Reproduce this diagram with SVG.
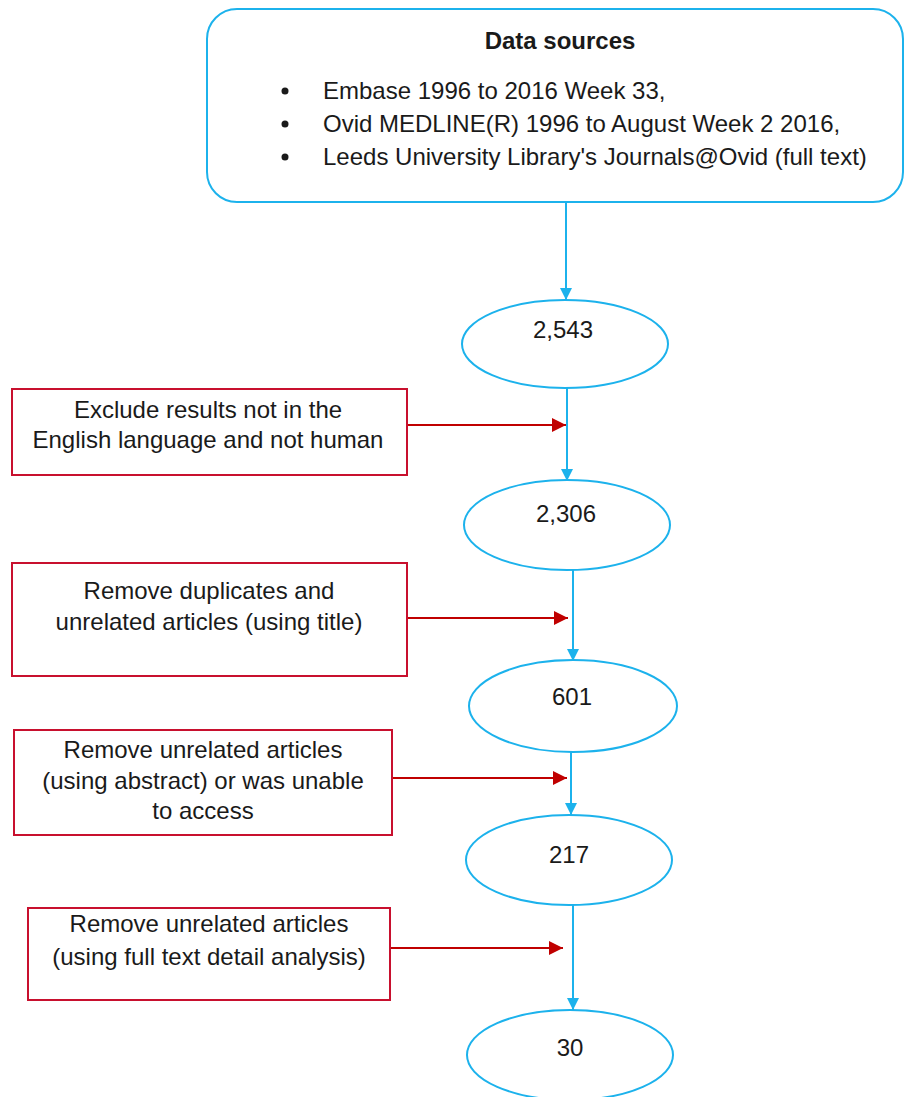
<svg xmlns="http://www.w3.org/2000/svg" width="904" height="1097" viewBox="0 0 904 1097">
<style>
text{font-family:"Liberation Sans",Arial,sans-serif;font-size:24px;fill:#1a1a1a}
.c{text-anchor:middle}
.b{font-weight:bold}
.blue{fill:#fff;stroke:#1CB2EC;stroke-width:2}
.red{fill:#fff;stroke:#C8102E;stroke-width:2}
.bl{stroke:#1CB2EC;stroke-width:2;fill:none}
.rl{stroke:#C00000;stroke-width:2;fill:none}
</style>
<defs>
<marker id="ab" markerWidth="12" markerHeight="12" refX="12" refY="6" orient="auto" markerUnits="userSpaceOnUse"><path d="M0,0 L12,6 L0,12 Z" fill="#1CB2EC"/></marker>
<marker id="ar" markerWidth="14" markerHeight="14" refX="14" refY="7" orient="auto" markerUnits="userSpaceOnUse"><path d="M0,0 L14,7 L0,14 Z" fill="#C00000"/></marker>
</defs>
<g id="connectors">
<line class="bl" x1="566" y1="202" x2="566" y2="300" marker-end="url(#ab)"/>
<line class="bl" x1="567" y1="388" x2="567" y2="481" marker-end="url(#ab)"/>
<line class="bl" x1="573" y1="570" x2="573" y2="661" marker-end="url(#ab)"/>
<line class="bl" x1="571" y1="752" x2="571" y2="815" marker-end="url(#ab)"/>
<line class="bl" x1="573" y1="905" x2="573" y2="1010" marker-end="url(#ab)"/>
<line class="rl" x1="407" y1="425" x2="566" y2="425" marker-end="url(#ar)"/>
<line class="rl" x1="407" y1="618" x2="568" y2="618" marker-end="url(#ar)"/>
<line class="rl" x1="392" y1="778" x2="567" y2="778" marker-end="url(#ar)"/>
<line class="rl" x1="390" y1="948" x2="563" y2="948" marker-end="url(#ar)"/>
</g>
<g id="sources">
<rect class="blue" x="207" y="9" width="696" height="193" rx="30"/>
<text class="c b" x="560" y="49">Data sources</text>
<circle cx="285" cy="91" r="3.5" fill="#1a1a1a"/>
<circle cx="285" cy="124" r="3.5" fill="#1a1a1a"/>
<circle cx="285" cy="157" r="3.5" fill="#1a1a1a"/>
<text x="323" y="99">Embase 1996 to 2016 Week 33,</text>
<text x="323" y="132">Ovid MEDLINE(R) 1996 to August Week 2 2016,</text>
<text x="323" y="165">Leeds University Library's Journals@Ovid (full text)</text>
</g>
<g id="n2543"><ellipse class="blue" cx="565" cy="344" rx="103" ry="44"/><text class="c" x="563" y="338">2,543</text></g>
<g id="n2306"><ellipse class="blue" cx="567" cy="525" rx="103" ry="45"/><text class="c" x="566" y="522">2,306</text></g>
<g id="n601"><ellipse class="blue" cx="573" cy="706" rx="104" ry="46"/><text class="c" x="572" y="705">601</text></g>
<g id="n217"><ellipse class="blue" cx="569" cy="860" rx="103" ry="45"/><text class="c" x="569" y="863">217</text></g>
<g id="n30"><ellipse class="blue" cx="570" cy="1055" rx="103" ry="45"/><text class="c" x="570" y="1056">30</text></g>
<g id="ex1"><rect class="red" x="12" y="389" width="395" height="86"/>
<text class="c" x="208" y="418">Exclude results not in the</text>
<text class="c" x="208" y="448">English language and not human</text></g>
<g id="ex2"><rect class="red" x="12" y="563" width="395" height="113"/>
<text class="c" x="209" y="599">Remove duplicates and</text>
<text class="c" x="209" y="630">unrelated articles (using title)</text></g>
<g id="ex3"><rect class="red" x="14" y="730" width="378" height="105"/>
<text class="c" x="203" y="758">Remove unrelated articles</text>
<text class="c" x="203" y="789">(using abstract) or was unable</text>
<text class="c" x="203" y="819">to access</text></g>
<g id="ex4"><rect class="red" x="28" y="908" width="362" height="92"/>
<text class="c" x="209" y="932">Remove unrelated articles</text>
<text class="c" x="209" y="965">(using full text detail analysis)</text></g>
</svg>
